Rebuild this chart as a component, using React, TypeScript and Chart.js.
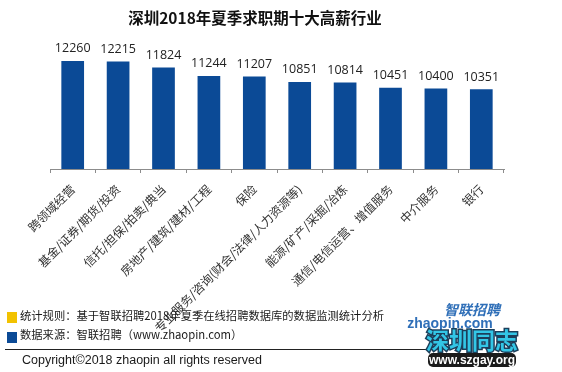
import React, { useEffect, useRef } from "react";
import { Chart, registerables } from "chart.js";

Chart.register(...registerables);

const title = "深圳2018年夏季求职期十大高薪行业";
const categories = [
  "跨领域经营",
  "基金/证券/期货/投资",
  "信托/担保/拍卖/典当",
  "房地产/建筑/建材/工程",
  "保险",
  "专业服务/咨询(财会/法律/人力资源等)",
  "能源/矿产/采掘/冶炼",
  "通信/电信运营、增值服务",
  "中介服务",
  "银行",
];
const salaries = [12260, 12215, 11824, 11244, 11207, 10851, 10814, 10451, 10400, 10351];
const footnoteRule = "统计规则：基于智联招聘2018年夏季在线招聘数据库的数据监测统计分析";
const footnoteSource = "数据来源：智联招聘（www.zhaopin.com）";
const copyright = "Copyright©2018 zhaopin all rights reserved";
const logoLines = ["智联招聘", "zhaopin.com", "深圳同志", "www.szgay.org"];

const BAR = "#0b4a96";
const CJK = '"Noto Sans CJK SC", "Noto Sans", sans-serif';

const decorPlugin = {
  id: "decor",
  afterDatasetsDraw(chart: any) {
    const ctx = chart.ctx;
    const meta = chart.getDatasetMeta(0);
    ctx.save();
    ctx.fillStyle = "#222";
    ctx.font = '12.5px "Open Sans", sans-serif';
    ctx.textAlign = "center";
    ctx.textBaseline = "bottom";
    meta.data.forEach((el: any, i: number) => {
      ctx.fillText(String(salaries[i]), el.x, el.y - 6);
    });
    ctx.restore();
  },
  afterDraw(chart: any) {
    const ctx = chart.ctx;
    ctx.save();
    // title
    ctx.fillStyle = "#111";
    ctx.font = "bold 15.5px " + CJK;
    ctx.textAlign = "center";
    ctx.textBaseline = "middle";
    ctx.fillText(title, 255, 18);

    // footer
    ctx.textAlign = "left";
    ctx.fillStyle = "#f2c200";
    ctx.fillRect(7, 312, 10, 11);
    ctx.fillStyle = BAR;
    ctx.fillRect(7, 332, 10, 11);
    ctx.fillStyle = "#1a1a1a";
    ctx.font = "11.3px " + CJK;
    ctx.fillText(footnoteRule, 20, 316);
    ctx.fillText(footnoteSource, 20, 335);
    ctx.strokeStyle = "#222";
    ctx.lineWidth = 1;
    ctx.beginPath();
    ctx.moveTo(5, 349.5);
    ctx.lineTo(432, 349.5);
    ctx.stroke();
    ctx.font = '12.5px "Liberation Sans", sans-serif';
    ctx.fillText(copyright, 22, 361);

    // watermark logo
    ctx.textAlign = "center";
    ctx.fillStyle = "#2f6fb8";
    ctx.font = "italic bold 14px " + CJK;
    ctx.fillText(logoLines[0], 472, 310);
    ctx.font = 'bold 14px "Liberation Sans", sans-serif';
    ctx.fillText(logoLines[1], 450, 324);
    ctx.font = "bold 23px " + CJK;
    ctx.lineWidth = 3;
    ctx.strokeStyle = "#1c3e5a";
    ctx.strokeText(logoLines[2], 472, 340);
    ctx.fillStyle = "#33c6e6";
    ctx.fillText(logoLines[2], 472, 340);
    ctx.fillStyle = "#1b1b1b";
    ctx.beginPath();
    ctx.roundRect(428, 353, 88, 14, 5);
    ctx.fill();
    ctx.fillStyle = "#fff";
    ctx.font = 'bold 12px "Liberation Sans", sans-serif';
    ctx.fillText(logoLines[3], 472, 360.5);
    ctx.restore();
  },
};

export default function App() {
  const ref = useRef<HTMLCanvasElement | null>(null);
  useEffect(() => {
    if (!ref.current) return;
    const chart = new Chart(ref.current, {
      type: "bar",
      data: {
        labels: categories,
        datasets: [
          {
            data: salaries,
            backgroundColor: BAR,
            barPercentage: 0.5,
            categoryPercentage: 1.0,
          },
        ],
      },
      options: {
        animation: false,
        responsive: false,
        maintainAspectRatio: false,
        layout: { padding: { left: 50, right: 58, top: 35, bottom: 0 } },
        plugins: { legend: { display: false }, tooltip: { enabled: false }, title: { display: false } },
        scales: {
          x: {
            grid: { display: true, drawOnChartArea: false, drawTicks: true, tickLength: 4, color: "#8c8c8c" },
            border: { display: true, color: "#8c8c8c" },
            ticks: {
              autoSkip: false,
              minRotation: 45,
              maxRotation: 45,
              padding: 9,
              color: "#333",
              font: { family: CJK, size: 12 },
            },
            afterFit: (s: any) => {
              s.height = 203;
            },
          },
          y: { display: false, min: 5000, max: 14000 },
        },
      },
      plugins: [decorPlugin],
    });
    return () => chart.destroy();
  }, []);
  return (
    <div style={{ position: "fixed", left: 0, top: 0, width: 562, height: 372, background: "#fff" }}>
      <canvas ref={ref} width={562} height={372} style={{ display: "block" }} />
    </div>
  );
}
